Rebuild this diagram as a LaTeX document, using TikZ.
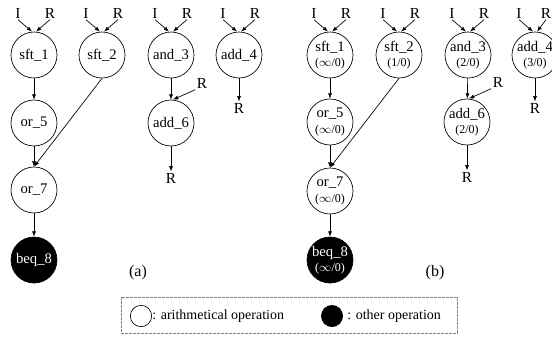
\documentclass[tikz,border=0pt]{standalone}
\usepackage{fontspec}
\setmainfont{Liberation Serif}
\usetikzlibrary{calc}
\usetikzlibrary{arrows.meta}

\begin{document}
\begin{tikzpicture}[>=stealth,x=0.75pt,y=-0.75pt,
  op/.style={circle,draw,line width=0.5pt,minimum size=34.5pt,inner sep=0pt,
    align=center,font=\fontsize{11}{11.5}\selectfont},
  other/.style={op,fill=black,text=white},
  lbl/.style={inner sep=1pt,font=\fontsize{11.5}{12}\selectfont},
  arr/.style={-{Latex[length=4pt,width=3pt]},line width=0.5pt}]
\useasboundingbox (0,0) rectangle (552,337);

% (a)
\node[op] (sa1) at (34,55) {sft\_1};
\node[op] (sa2) at (102,55) {sft\_2};
\node[op] (sa3) at (171,55) {and\_3};
\node[op] (sa4) at (239,55) {add\_4};
\node[op] (sa5) at (34,123) {or\_5};
\node[op] (sa6) at (171,123) {add\_6};
\node[op] (sa7) at (34,190) {or\_7};
\node[other] (sa8) at (34,260) {beq\_8};

% (b)
\node[op] (sb1) at (330,55) {sft\_1\\{\fontsize{9}{9}\selectfont($\infty$/0)}};
\node[op] (sb2) at (399,55) {sft\_2\\{\fontsize{9}{9}\selectfont(1/0)}};
\node[op] (sb3) at (468,55) {and\_3\\{\fontsize{9}{9}\selectfont(2/0)}};
\node[op] (sb4) at (535,55) {add\_4\\{\fontsize{9}{9}\selectfont(3/0)}};
\node[op] (sb5) at (330,122) {or\_5\\{\fontsize{9}{9}\selectfont($\infty$/0)}};
\node[op] (sb6) at (467,122) {add\_6\\{\fontsize{9}{9}\selectfont(2/0)}};
\node[op] (sb7) at (330,191) {or\_7\\{\fontsize{9}{9}\selectfont($\infty$/0)}};
\node[other] (sb8) at (330,260) {beq\_8\\{\fontsize{9}{9}\selectfont($\infty$/0)}};

\foreach \n/\d in {sa1/16,sa2/16,sa3/16,sa4/16,sb1/16,sb2/16,sb3/16,sb4/11}{
  \node[lbl] (\n i) at ($(\n)+(-16,-42)$) {I};
  \node[lbl] (\n r) at ($(\n)+(\d,-42)$) {R};
  \draw[arr] (\n i.south) -- ([xshift=-1.5pt]\n.north);
  \draw[arr] (\n r.south) -- ([xshift=1.5pt]\n.north);
}

\foreach \p in {a,b}{
  \node[lbl] (s\p6r) at ($(s\p6)+(31,-40)$) {R};
  \node[lbl] (s\p6o) at ($(s\p6)+(0,55)$) {R};
  \node[lbl] (s\p4o) at ($(s\p4)+(0,53)$) {R};
  \draw[arr] (s\p1) -- (s\p5);
  \draw[arr] (s\p5) -- (s\p7);
  \draw[arr] (s\p2.south) -- (s\p7.north);
  \draw[arr] (s\p7) -- (s\p8);
  \draw[arr] (s\p3) -- (s\p6);
  \draw[arr] (s\p6r.south west) -- ([xshift=1.5pt]s\p6.north);
  \draw[arr] (s\p6) -- (s\p6o);
  \draw[arr] (s\p4) -- (s\p4o);
}

\node[font=\fontsize{12}{12}\selectfont] (capa) at (138,273) {(a)};
\node[font=\fontsize{12}{12}\selectfont] (capb) at (435,273) {(b)};

% legend
\draw[dashed,gray,line width=0.6pt,dash pattern=on 2pt off 1pt] (121,297) rectangle (457,333);
\node[circle,draw,line width=0.5pt,minimum size=16pt,inner sep=0pt] (key1) at (141,316) {};
\node[anchor=west,inner sep=0pt,font=\fontsize{10.5}{11}\selectfont] (key1t) at (152,316) {: arithmetical operation};
\node[circle,fill=black,minimum size=16.5pt,inner sep=0pt] (key2) at (332,316) {};
\node[anchor=west,inner sep=0pt,font=\fontsize{10.5}{11}\selectfont] (key2t) at (347,316) {: other operation};
\end{tikzpicture}
\end{document}
